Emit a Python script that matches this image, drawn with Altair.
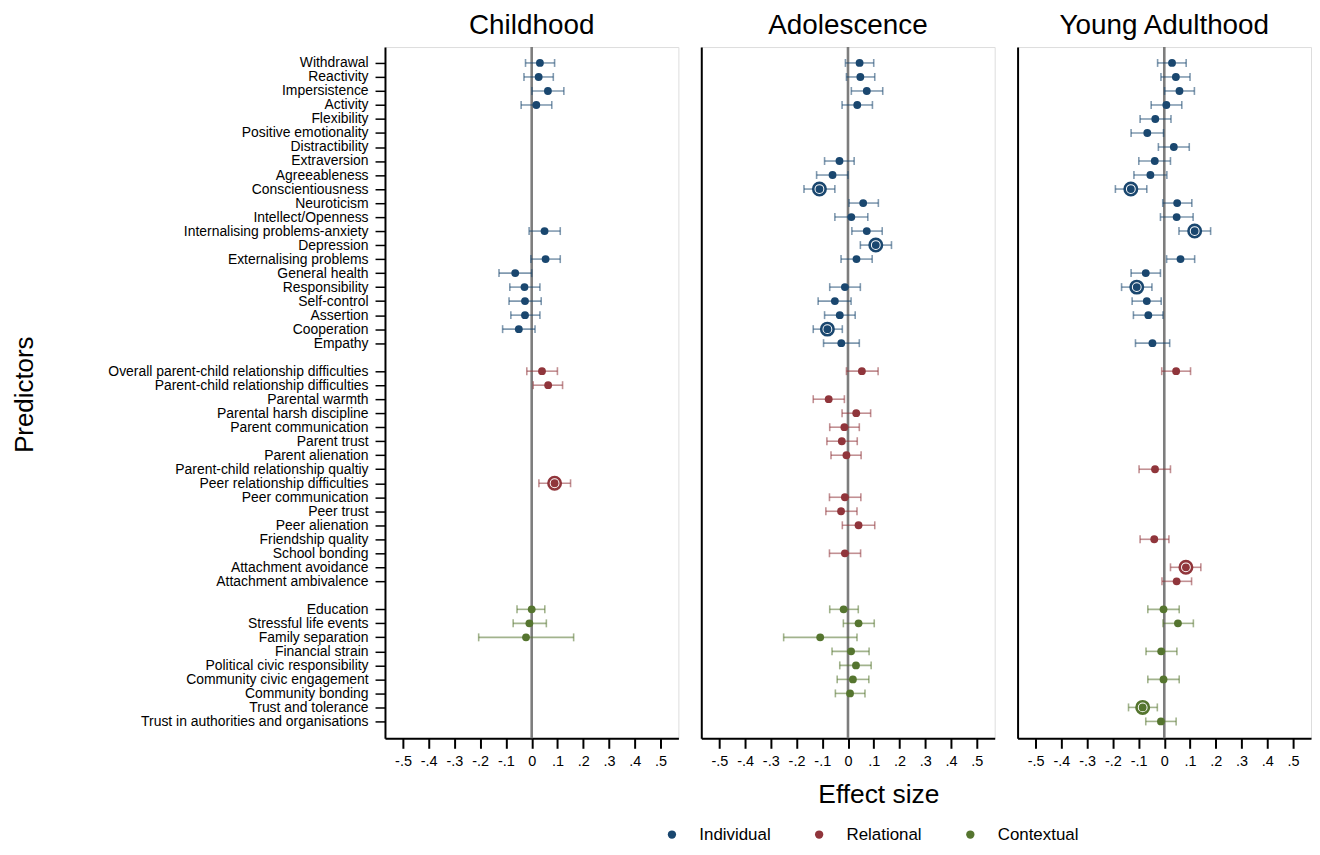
import json
import altair as alt
import pandas as pd

FONT = "Liberation Sans"

# ---------------- data ----------------
individual = [
    "Withdrawal", "Reactivity", "Impersistence", "Activity", "Flexibility",
    "Positive emotionality", "Distractibility", "Extraversion", "Agreeableness",
    "Conscientiousness", "Neuroticism", "Intellect/Openness",
    "Internalising problems-anxiety", "Depression", "Externalising problems",
    "General health", "Responsibility", "Self-control", "Assertion",
    "Cooperation", "Empathy",
]
relational = [
    "Overall parent-child relationship difficulties",
    "Parent-child relationship difficulties", "Parental warmth",
    "Parental harsh discipline", "Parent communication", "Parent trust",
    "Parent alienation", "Parent-child relationship qualtiy",
    "Peer relationship difficulties", "Peer communication", "Peer trust",
    "Peer alienation", "Friendship quality", "School bonding",
    "Attachment avoidance", "Attachment ambivalence",
]
contextual = [
    "Education", "Stressful life events", "Family separation",
    "Financial strain", "Political civic responsibility",
    "Community civic engagement", "Community bonding", "Trust and tolerance",
    "Trust in authorities and organisations",
]

# (predictor, estimate, lower CI, upper CI, significant)
childhood = [
    ("Withdrawal", 0.032, -0.024, 0.089, 0),
    ("Reactivity", 0.027, -0.030, 0.084, 0),
    ("Impersistence", 0.063, 0.001, 0.125, 0),
    ("Activity", 0.018, -0.041, 0.078, 0),
    ("Internalising problems-anxiety", 0.050, -0.010, 0.111, 0),
    ("Externalising problems", 0.054, -0.003, 0.111, 0),
    ("General health", -0.064, -0.127, 0.000, 0),
    ("Responsibility", -0.028, -0.085, 0.032, 0),
    ("Self-control", -0.026, -0.088, 0.037, 0),
    ("Assertion", -0.026, -0.081, 0.032, 0),
    ("Cooperation", -0.050, -0.113, 0.013, 0),
    ("Overall parent-child relationship difficulties", 0.040, -0.019, 0.100, 0),
    ("Parent-child relationship difficulties", 0.064, 0.006, 0.120, 0),
    ("Peer relationship difficulties", 0.089, 0.028, 0.151, 1),
    ("Education", 0.000, -0.057, 0.051, 0),
    ("Stressful life events", -0.009, -0.072, 0.057, 0),
    ("Family separation", -0.022, -0.206, 0.163, 0),
]
adolescence = [
    ("Withdrawal", 0.045, -0.010, 0.100, 0),
    ("Reactivity", 0.048, -0.006, 0.104, 0),
    ("Impersistence", 0.073, 0.013, 0.135, 0),
    ("Activity", 0.036, -0.023, 0.095, 0),
    ("Extraversion", -0.033, -0.091, 0.024, 0),
    ("Agreeableness", -0.060, -0.122, 0.000, 0),
    ("Conscientiousness", -0.111, -0.171, -0.051, 1),
    ("Neuroticism", 0.059, 0.004, 0.118, 0),
    ("Intellect/Openness", 0.013, -0.051, 0.077, 0),
    ("Internalising problems-anxiety", 0.073, 0.015, 0.133, 0),
    ("Depression", 0.108, 0.048, 0.169, 1),
    ("Externalising problems", 0.033, -0.027, 0.094, 0),
    ("Responsibility", -0.012, -0.071, 0.048, 0),
    ("Self-control", -0.051, -0.116, 0.012, 0),
    ("Assertion", -0.032, -0.091, 0.028, 0),
    ("Cooperation", -0.080, -0.135, -0.022, 1),
    ("Empathy", -0.026, -0.095, 0.044, 0),
    ("Overall parent-child relationship difficulties", 0.054, -0.006, 0.117, 0),
    ("Parental warmth", -0.075, -0.135, -0.014, 0),
    ("Parental harsh discipline", 0.032, -0.023, 0.088, 0),
    ("Parent communication", -0.014, -0.071, 0.044, 0),
    ("Parent trust", -0.024, -0.082, 0.036, 0),
    ("Parent alienation", -0.006, -0.066, 0.051, 0),
    ("Peer communication", -0.012, -0.072, 0.050, 0),
    ("Peer trust", -0.027, -0.086, 0.035, 0),
    ("Peer alienation", 0.041, -0.022, 0.104, 0),
    ("School bonding", -0.012, -0.072, 0.049, 0),
    ("Education", -0.017, -0.071, 0.040, 0),
    ("Stressful life events", 0.041, -0.018, 0.102, 0),
    ("Family separation", -0.108, -0.250, 0.035, 0),
    ("Financial strain", 0.012, -0.062, 0.082, 0),
    ("Political civic responsibility", 0.031, -0.032, 0.090, 0),
    ("Community civic engagement", 0.019, -0.042, 0.081, 0),
    ("Community bonding", 0.008, -0.049, 0.066, 0),
]
young_adulthood = [
    ("Withdrawal", 0.030, -0.026, 0.085, 0),
    ("Reactivity", 0.045, -0.013, 0.100, 0),
    ("Impersistence", 0.059, 0.001, 0.117, 0),
    ("Activity", 0.008, -0.051, 0.068, 0),
    ("Flexibility", -0.035, -0.094, 0.026, 0),
    ("Positive emotionality", -0.066, -0.129, -0.003, 0),
    ("Distractibility", 0.037, -0.023, 0.097, 0),
    ("Extraversion", -0.037, -0.099, 0.024, 0),
    ("Agreeableness", -0.054, -0.118, 0.010, 0),
    ("Conscientiousness", -0.130, -0.190, -0.068, 1),
    ("Neuroticism", 0.050, -0.006, 0.107, 0),
    ("Intellect/Openness", 0.048, -0.015, 0.112, 0),
    ("Internalising problems-anxiety", 0.118, 0.057, 0.180, 1),
    ("Externalising problems", 0.063, 0.009, 0.118, 0),
    ("General health", -0.072, -0.129, -0.015, 0),
    ("Responsibility", -0.107, -0.166, -0.048, 1),
    ("Self-control", -0.068, -0.125, -0.012, 0),
    ("Assertion", -0.062, -0.120, -0.005, 0),
    ("Empathy", -0.046, -0.112, 0.021, 0),
    ("Overall parent-child relationship difficulties", 0.046, -0.010, 0.102, 0),
    ("Parent-child relationship qualtiy", -0.036, -0.098, 0.024, 0),
    ("Friendship quality", -0.039, -0.094, 0.018, 0),
    ("Attachment avoidance", 0.084, 0.024, 0.142, 1),
    ("Attachment ambivalence", 0.048, -0.009, 0.106, 0),
    ("Education", -0.003, -0.064, 0.058, 0),
    ("Stressful life events", 0.053, -0.005, 0.113, 0),
    ("Financial strain", -0.012, -0.071, 0.049, 0),
    ("Community civic engagement", -0.003, -0.064, 0.058, 0),
    ("Trust and tolerance", -0.084, -0.139, -0.027, 1),
    ("Trust in authorities and organisations", -0.013, -0.072, 0.046, 0),
]

stages = ["Childhood", "Adolescence", "Young Adulthood"]
domains = ["Individual", "Relational", "Contextual"]
colors = ["#1a476f", "#90353b", "#55752f"]
x_ticks = [-0.5, -0.4, -0.3, -0.2, -0.1, 0, 0.1, 0.2, 0.3, 0.4, 0.5]

# ---------------- row layout (blank row between groups) ----------------
row_of = {}
labels = []
r = 0
for dom, names in zip(domains, [individual, relational, contextual]):
    for n in names:
        row_of[n] = (r, dom)
        labels.append(n)
        r += 1
    labels.append("")
    r += 1
labels = labels[:-1]
label_rows = [row_of[n][0] for n in individual + relational + contextual]
n_rows = len(labels)

y_label_expr = json.dumps(labels) + "[datum.value]"
x_label_expr = ("(datum.value < 0 ? '-' : '') + (datum.value == 0 ? '0' : "
                "'.' + format(abs(datum.value) * 10, '.0f'))")

PW, PH = 295, 695
xscale = alt.Scale(domain=[-0.57, 0.57], nice=False, zero=False)
yscale = alt.Scale(domain=[-1.136, n_rows - 1 + 1.207], reverse=True,
                   nice=False, zero=False)
cscale = alt.Scale(domain=domains, range=colors)

# legend position is relative to the first panel's plot origin
legend = alt.Legend(orient="none", legendX=280, legendY=783,
                    direction="horizontal", title=None, labelFontSize=17,
                    labelFont=FONT, labelColor="black", symbolType="circle",
                    symbolSize=70, symbolStrokeWidth=0, symbolOpacity=1,
                    labelOffset=19, columnPadding=40, padding=0)


def make_panel(stage, rows, first, middle):
    df = pd.DataFrame(rows, columns=["predictor", "est", "lo", "hi", "sig"])
    df["row"] = df["predictor"].map(lambda n: row_of[n][0])
    df["domain"] = df["predictor"].map(lambda n: row_of[n][1])

    xaxis_kw = dict(values=x_ticks, labelExpr=x_label_expr, grid=False,
                    domainColor="black", domainWidth=2, tickColor="black",
                    tickWidth=2, tickSize=10, labelFontSize=14.5,
                    labelColor="black", labelFont=FONT, labelPadding=6,
                    labelFlush=False)
    if middle:
        xaxis_kw.update(title="Effect size", titleFontSize=26.5,
                        titleFont=FONT, titleFontWeight="normal",
                        titleColor="black", titlePadding=14, titleX=178,
                        titleAlign="center")
    else:
        xaxis_kw.update(title=None)
    xaxis = alt.Axis(**xaxis_kw)

    if first:
        yaxis = alt.Axis(values=label_rows, labelExpr=y_label_expr,
                         grid=False, domainColor="black", domainWidth=2,
                         tickColor="black", tickWidth=1.5, tickSize=10,
                         labelFontSize=14, labelFont=FONT,
                         labelColor="black", labelPadding=7, labelLimit=0,
                         labelFlush=False, labelOverlap=False,
                         title="Predictors", titleFontSize=26,
                         titleFont=FONT, titleFontWeight="normal",
                         titleColor="black", titleX=-362, titleY=349,
                         titleAngle=270, titleAlign="center",
                         titleBaseline="middle")
    else:
        yaxis = alt.Axis(labels=False, ticks=False, grid=False,
                         domainColor="black", domainWidth=2, title=None)

    def X(field):
        return alt.X(f"{field}:Q", scale=xscale, axis=xaxis)

    Y = alt.Y("row:Q", scale=yscale, axis=yaxis)

    layers = [alt.Chart(pd.DataFrame({"v": [0.0]})).mark_rule(
        color="#7d7d7d", strokeWidth=2.6).encode(x=X("v"))]
    for dom, col in zip(domains, colors):
        sub = df[df["domain"] == dom]
        if len(sub) == 0:
            continue
        b = alt.Chart(sub)
        layers.append(b.mark_rule(color=col, strokeWidth=1.6, opacity=0.55)
                      .encode(x=X("lo"), x2="hi:Q", y=Y))
        for end in ("lo", "hi"):
            layers.append(b.mark_tick(color=col, orient="vertical", size=8,
                                      thickness=1.6, opacity=0.55)
                          .encode(x=X(end), y=Y))
        sig = sub[sub["sig"] == 1]
        if len(sig):
            layers.append(alt.Chart(sig).mark_point(
                shape="circle", filled=False, fill="white", fillOpacity=1,
                stroke=col, strokeWidth=2.6, size=155, opacity=1)
                .encode(x=X("est"), y=Y))
    layers.append(alt.Chart(df).mark_circle(size=62, opacity=1).encode(
        x=X("est"), y=Y,
        color=alt.Color("domain:N", scale=cscale, legend=legend)))

    return alt.layer(*layers).properties(
        width=PW, height=PH,
        title=alt.TitleParams(stage, fontSize=28, font=FONT,
                              fontWeight="normal", color="black",
                              anchor="middle", offset=6))


panels = [make_panel(s, d, i == 0, i == 1)
          for i, (s, d) in enumerate(zip(stages,
                                         [childhood, adolescence,
                                          young_adulthood]))]

chart = alt.hconcat(*panels, spacing=21).resolve_scale(
    color="shared").resolve_legend(color="shared").properties(
    padding={"left": 3, "top": 1, "right": 0, "bottom": 0}
).configure_view(strokeWidth=0).configure(font=FONT)

chart.save("out.html", embed_options={"renderer": "svg", "actions": False})
